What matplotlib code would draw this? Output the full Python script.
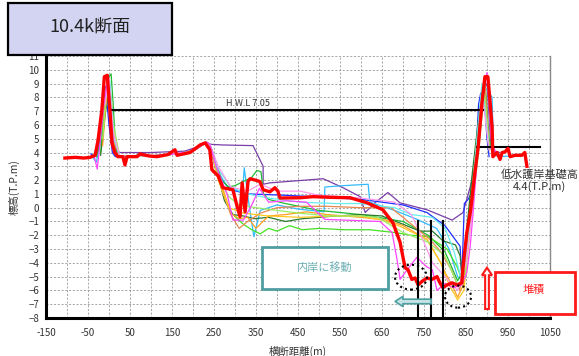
import matplotlib
matplotlib.use("Agg")
import matplotlib.pyplot as plt
from matplotlib.patches import Rectangle, Ellipse, FancyArrow
import numpy as np

plt.rcParams["font.family"] = ["Noto Sans CJK JP", "DejaVu Sans"]
plt.rcParams["axes.unicode_minus"] = True

# ---- survey profiles (distance m, elevation T.P.m) ----
BANK_X = [25, 45, 70, 95, 120, 145, 165, 185, 205, 220, 232]
BANK_Y = [3.75, 3.7, 3.8, 3.75, 3.8, 3.85, 3.95, 4.0, 4.2, 4.5, 4.75]

purple_x = [-30, -18, -8, 2, 12, 25, 60, 100, 140, 180, 220, 232, 240, 269, 343, 367, 367, 383, 510,
            557, 598, 610, 633, 664, 693, 757, 817, 843, 860, 876, 890, 900, 910, 930]
purple_y = [3.8, 6.0, 8.8, 8.5, 4.5, 4.0, 4.0, 4.0, 4.05, 4.1, 4.5, 4.7, 4.6, 4.55, 4.5, 3.0, 1.7, 1.8, 2.1,
            1.45, 0.8, -0.35, 0.35, 1.1, 0.35, -0.15, -0.9, -0.35, 1.5, 3.7, 8.5, 9.0, 4.2, 4.0]

blue_head_x = [-43, -35, -25, -18, -12, -6, 0, 8, 15]
blue_head_y = [3.9, 3.7, 4.2, 6.0, 8.1, 8.0, 6.0, 4.0, 3.7]
blue_mid_x = [240, 252, 262, 290, 330, 420, 520, 600, 700, 757, 800, 836, 840, 846, 855, 862, 868, 874,
              880, 885, 893, 900, 905]
blue_mid_y = [4.6, 3.0, 2.2, 1.3, 1.0, 0.9, 0.75, 0.6, 0.2, -0.35, -1.3, -2.8, -5.2, 0.3, 0.6, 1.0, 2.6,
              4.0, 7.5, 8.3, 8.3, 5.0, 3.7]

sky_head_x = [-40, -30, -20, -12, -5, 3, 12, 20]
sky_head_y = [3.7, 3.3, 5.0, 7.5, 8.2, 6.5, 4.2, 3.8]
sky_mid_x = [240, 250, 262, 280, 300, 318, 322, 332, 345, 360, 400, 450, 512, 514, 560, 617, 621, 680,
             730, 780, 810, 830, 845, 855, 865, 878, 890, 900, 912, 916, 925, 960, 990]
sky_mid_y = [4.6, 3.8, 2.5, 1.6, 1.3, 1.1, 2.9, 0.5, -2.1, -0.2, 0.2, -0.1, -0.3, 1.5, 1.6, 1.7, 0.4, -0.2,
             -0.8, -1.5, -3.0, -5.0, -5.4, -2.0, 2.0, 5.0, 8.5, 8.6, 8.0, 4.0, 3.7, 3.75, 3.8]

green_head_x = [-30, -22, -12, -2, 5, 10, 16, 25]
green_head_y = [3.7, 4.5, 7.5, 9.4, 9.7, 7.5, 4.2, 3.7]
green_mid_x = [240, 255, 268, 285, 300, 320, 340, 352, 362, 368, 380, 420, 500, 600, 700, 760, 800, 830,
               845, 860, 875, 888, 895, 905, 915]
green_mid_y = [4.6, 3.3, 2.0, 1.5, 1.6, 1.9, 2.2, 2.7, 2.6, 1.0, 0.6, 0.3, -0.2, -0.5, -1.0, -2.0, -3.2,
               -5.3, -4.5, 0.5, 4.5, 8.5, 9.3, 5.0, 4.0]

lime_head_x = [-20, -10, 0, 10, 20]
lime_head_y = [4.0, 7.5, 9.0, 6.0, 3.8]
lime_mid_x = [240, 258, 275, 290, 305, 320, 340, 360, 380, 400, 430, 460, 500, 560, 620, 680, 720, 760,
              805, 829, 845, 860, 878, 892, 905]
lime_mid_y = [4.6, 2.5, 0.8, -0.3, -0.8, -1.2, -1.6, -1.9, -1.5, -1.7, -1.3, -1.6, -1.5, -1.6, -1.6, -1.8,
              -2.0, -2.1, -3.0, -4.3, -5.6, -1.0, 3.5, 8.0, 4.5]

dgreen_head_x = [-20, -8, 2, 12, 22]
dgreen_head_y = [3.8, 7.0, 8.8, 5.0, 3.8]
dgreen_mid_x = [240, 258, 275, 295, 320, 345, 380, 420, 460, 500, 540, 600, 650, 700, 740, 770, 795, 825,
                836, 842, 852, 865, 880, 892, 905]
dgreen_mid_y = [4.6, 2.5, 0.5, -0.5, -0.6, -0.8, -0.7, -1.0, -0.8, -0.7, -0.6, -0.5, -0.6, -1.2, -1.7, -1.7,
                -2.4, -2.7, -3.5, -5.3, -1.5, 2.5, 6.5, 9.0, 4.2]

magenta_head_x = [-35, -28, -22, -12, -4, 4, 12, 22]
magenta_head_y = [3.7, 2.8, 4.5, 7.5, 9.2, 7.0, 4.0, 3.7]
magenta_mid_x = [240, 255, 268, 282, 295, 320, 340, 358, 380, 420, 470, 514, 560, 645, 674, 686, 693, 710,
                 733, 757, 770, 781, 800, 820, 840, 852, 860, 867, 876, 888, 900, 910, 920]
magenta_mid_y = [4.6, 3.0, 2.0, 0.9, -0.9, -0.9, 0.2, 1.4, 0.4, 0.5, 0.4, -0.85, -0.9, -1.0, -1.8, -3.8,
                 -5.2, -4.5, -3.6, -4.3, -4.5, -6.0, -5.5, -5.8, -5.6, -4.7, -2.8, -0.35, 3.7, 8.0, 9.8,
                 5.0, 4.0]

orange_head_x = [-15, -5, 5, 15]
orange_head_y = [4.5, 8.5, 8.0, 4.0]
orange_mid_x = [240, 258, 272, 290, 310, 330, 350, 380, 420, 470, 520, 600, 660, 700, 757, 790, 800, 815,
                830, 845, 860, 875, 890, 905]
orange_mid_y = [4.6, 2.8, 1.3, -0.4, -0.8, -0.7, -1.5, -0.6, -0.5, -0.3, -0.5, -0.7, -0.9, -1.3, -2.3, -4.0,
                -4.7, -5.5, -6.5, -5.5, -0.5, 4.5, 8.5, 4.2]

coral_head_x = [-10, 0, 10]
coral_head_y = [7.0, 9.0, 5.0]
coral_mid_x = [240, 255, 270, 290, 310, 330, 360, 400, 455, 520, 600, 671, 700, 764, 790, 815, 835, 850,
               865, 880, 895, 905]
coral_mid_y = [4.6, 3.0, 1.2, -0.5, -1.5, -1.0, -0.4, 0.0, 0.1, 0.1, 0.0, 0.0, -0.7, -2.3, -3.2, -4.5, -6.0,
               -3.0, 1.5, 6.0, 9.0, 4.5]

yellow_head_x = [-12, -2, 8]
yellow_head_y = [6.5, 9.3, 6.0]
yellow_mid_x = [240, 260, 285, 320, 380, 455, 540, 600, 650, 693, 757, 790, 810, 830, 845, 860, 878, 892, 905]
yellow_mid_y = [4.6, 2.0, 0.0, -0.4, -0.6, -0.7, -0.6, -0.6, -0.9, -1.35, -2.3, -4.0, -5.6, -6.7, -6.0, -1.5,
                4.0, 8.8, 4.3]

lgreen_head_x = [-15, -5, 5]
lgreen_head_y = [5.0, 9.0, 7.0]
lgreen_mid_x = [240, 262, 285, 310, 350, 400, 455, 520, 600, 640, 700, 760, 800, 830, 848, 862, 878, 892, 905]
lgreen_mid_y = [4.6, 2.2, 0.8, 0.2, 0.0, -0.2, -0.4, -0.6, -0.6, -0.7, -1.8, -2.5, -3.5, -5.6, -5.0, -0.5,
                4.5, 9.0, 4.3]

cyan_head_x = [-8, 2, 12]
cyan_head_y = [8.0, 9.2, 5.0]
cyan_mid_x = [240, 260, 290, 330, 380, 455, 540, 600, 680, 720, 770, 800, 820, 840, 855, 870, 888, 905]
cyan_mid_y = [4.6, 2.8, 1.5, 1.0, 0.7, 0.4, 0.3, 0.3, 0.0, -0.5, -0.7, -1.5, -3.0, -5.3, -2.5, 3.0, 9.0, 4.3]

pink_head_x = [-10, 0, 10]
pink_head_y = [7.5, 9.4, 5.5]
pink_mid_x = [240, 260, 290, 330, 360, 400, 455, 500, 600, 680, 720, 750, 770, 800, 830, 850, 870, 890, 905]
pink_mid_y = [4.6, 3.0, 1.5, 1.2, 1.7, 1.2, 1.2, 0.9, 0.7, 0.4, -0.5, -2.5, -4.0, -5.0, -6.0, -4.0, 1.0, 8.0,
              4.2]

# latest survey (bold red)
red_x = [-105, -80, -60, -45, -33, -26, -17, -11, -4, 2, 7, 14, 21, 33, 38, 43, 67, 74, 95, 114, 140, 157,
         162, 193, 217, 229, 240, 245, 260, 271, 295, 305, 312, 317, 324, 331, 336, 348, 359, 367, 383, 395,
         402, 407, 455, 486, 530, 574, 614, 652, 676, 693, 700, 705, 712, 721, 729, 736, 745, 757, 769, 781,
         788, 795, 805, 817, 829, 840, 843, 852, 860, 864, 871, 879, 888, 895, 902, 907, 912, 914, 924, 931,
         936, 943, 950, 955, 967, 983, 990, 995]
red_y = [3.6, 3.65, 3.6, 3.65, 3.8, 4.9, 7.1, 9.5, 9.6, 7.1, 4.7, 4.0, 3.7, 3.7, 3.1, 3.7, 3.7, 3.9, 3.75,
         3.7, 3.85, 4.2, 3.8, 4.0, 4.55, 4.7, 4.2, 2.75, 2.3, 1.45, 1.3, 0.1, -0.65, 1.8, -0.3, 1.9, 2.1, 2.0,
         1.9, 1.3, 1.15, 1.45, 1.2, 0.7, 0.72, 0.8, 0.75, 0.72, 0.36, -0.15, -1.1, -2.5, -3.6, -4.35, -4.5,
         -5.2, -5.1, -5.6, -5.35, -5.1, -5.2, -5.0, -5.45, -5.8, -5.6, -5.45, -5.6, -5.45, -4.3, -1.8, -0.4,
         0.6, 2.5, 4.4, 7.6, 9.5, 9.5, 7.8, 5.9, 3.7, 4.0, 3.5, 4.0, 4.05, 4.3, 3.7, 3.8, 3.8, 4.0, 3.0]

HWL = 7.05
REVET = 4.4
SECTION_X = [736, 767, 795]

X_TICKS = list(range(-150, 1051, 50))
Y_TICKS = list(range(-8, 12))

# ---- figure ----
W, H = 579, 356
fig = plt.figure(figsize=(W / 100, H / 100), dpi=100)
ax = fig.add_axes([46 / W, 1 - 318 / H, 504 / W, 262 / H])
ax.set_xlim(-150, 1050)
ax.set_ylim(-8, 11)

thin = [
    (purple_x, purple_y, "#7a3ea8"),
    (blue_head_x + BANK_X + blue_mid_x, blue_head_y + BANK_Y + blue_mid_y, "#1f2fff"),
    (sky_head_x + BANK_X + sky_mid_x, sky_head_y + BANK_Y + sky_mid_y, "#33bbff"),
    (green_head_x + BANK_X + green_mid_x, green_head_y + BANK_Y + green_mid_y, "#22bb33"),
    (lime_head_x + BANK_X + lime_mid_x, lime_head_y + BANK_Y + lime_mid_y, "#44e022"),
    (dgreen_head_x + BANK_X + dgreen_mid_x, dgreen_head_y + BANK_Y + dgreen_mid_y, "#2b7a2b"),
    (orange_head_x + BANK_X + orange_mid_x, orange_head_y + BANK_Y + orange_mid_y, "#ffa020"),
    (coral_head_x + BANK_X + coral_mid_x, coral_head_y + BANK_Y + coral_mid_y, "#e88850"),
    (yellow_head_x + BANK_X + yellow_mid_x, yellow_head_y + BANK_Y + yellow_mid_y, "#ffc820"),
    (lgreen_head_x + BANK_X + lgreen_mid_x, lgreen_head_y + BANK_Y + lgreen_mid_y, "#99ee66"),
    (cyan_head_x + BANK_X + cyan_mid_x, cyan_head_y + BANK_Y + cyan_mid_y, "#66eeee"),
    (pink_head_x + BANK_X + pink_mid_x, pink_head_y + BANK_Y + pink_mid_y, "#ff99ee"),
    (magenta_head_x + BANK_X + magenta_mid_x, magenta_head_y + BANK_Y + magenta_mid_y, "#ff44ff"),
]
for xs, ys, c in thin:
    ax.plot(xs, ys, color=c, lw=0.9, zorder=2)

ax.plot(red_x, red_y, color="#ff0000", lw=2.4, zorder=4, solid_joinstyle="round")

# reference levels
ax.plot([2, 890], [HWL, HWL], color="black", lw=1.5, zorder=3)
ax.text(331, HWL + 0.15, "H.W.L 7.05", fontsize=6.5, color="#333333", ha="center", va="bottom", zorder=5)
ax.plot([876, 1026], [REVET, REVET], color="black", lw=1.5, zorder=3)
ax.text(1026, 1.95, "低水護岸基礎高\n4.4(T.P.m)", fontsize=8, color="#333333", ha="center", va="center",
        linespacing=1.1, clip_on=False, zorder=6)

for sx in SECTION_X:
    ax.plot([sx, sx], [-8, -1.0], color="black", lw=1.5, zorder=5)

# dotted rings
ax.add_patch(Ellipse((719, -5.04), 76, 1.8, fill=False, ls=(0, (1, 1.5)), lw=1.5, ec="black", zorder=6))
ax.add_patch(Ellipse((831, -6.45), 62, 1.6, fill=False, ls=(0, (1, 1.5)), lw=1.5, ec="black", zorder=6))

# annotation box and arrow: inner bank shift
teal = "#4f9ea2"
ax.add_patch(Rectangle((364, -5.87), 300, 3.04, fc="white", ec=teal, lw=2, zorder=6))
ax.text(514, -4.35, "内岸に移動", fontsize=8, color="#6aaeb2", ha="center", va="center", zorder=7)
ax.add_patch(FancyArrow(767, -6.8, -86, 0, width=0.33, head_width=0.75, head_length=19,
                        length_includes_head=True, fc="#c5e3e5", ec=teal, lw=1.2, zorder=6))

# deposition arrow
ax.add_patch(FancyArrow(900, -7.35, 0, 3.0, width=9, head_width=24, head_length=0.55,
                        length_includes_head=True, fc="white", ec="#ff1a1a", lw=1.5, zorder=6,
                        clip_on=False))

# axes styling
ax.set_xticks(X_TICKS)
ax.set_xticklabels([str(v) if (v + 150) % 100 == 0 else "" for v in X_TICKS])
ax.set_yticks(Y_TICKS)
ax.tick_params(length=0, labelsize=7, labelcolor="#333333")
ax.tick_params(axis="x", pad=7)
ax.tick_params(axis="y", pad=5)
ax.grid(True, color="#999999", ls=(0, (2.5, 2)), lw=0.6)
ax.set_axisbelow(True)
ax.spines["top"].set_visible(False)
ax.spines["right"].set_color("#888888")
ax.spines["right"].set_linewidth(1.0)
for s in ("left", "bottom"):
    ax.spines[s].set_color("black")
    ax.spines[s].set_linewidth(2.2)
    ax.spines[s].set_zorder(6)

ax.set_xlabel("横断距離(m)", fontsize=7.5, color="#333333", labelpad=6)
ax.set_ylabel("標高(T.P.m)", fontsize=7.5, color="#333333", labelpad=6)

# title box
fig.add_artist(Rectangle((8 / W, 1 - 55 / H), 164 / W, 52 / H, transform=fig.transFigure,
                         fc="#d3d3f2", ec="black", lw=1.6, zorder=10))
fig.text(90 / W, 1 - 27 / H, "10.4k断面", fontsize=13, color="#222222", ha="center", va="center", zorder=11)

# deposition label box
fig.add_artist(Rectangle((495 / W, 1 - 314 / H), 80 / W, 42 / H, transform=fig.transFigure,
                         fc="white", ec="#ff1a1a", lw=2, zorder=10))
fig.text(534 / W, 1 - 290 / H, "堆積", fontsize=8, color="#ff2020", ha="center", va="center", zorder=11)

fig.savefig("out.png", dpi=100)
